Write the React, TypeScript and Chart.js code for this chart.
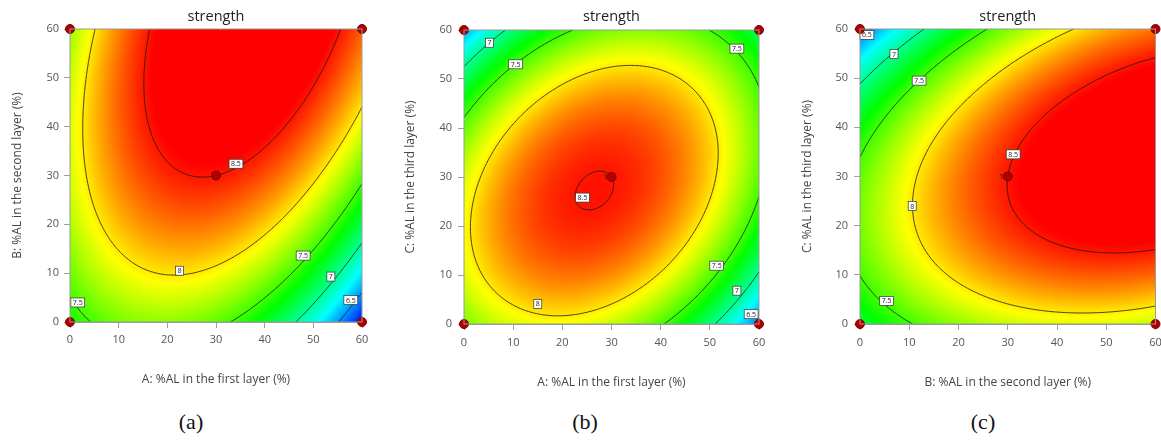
import React, { useEffect, useRef } from 'react';
import { Chart, registerables } from 'chart.js';

Chart.register(...registerables);

// ---------- data ----------
const gridLevels = [0, 10, 20, 30, 40, 50, 60];
const tickValues = [0, 10, 20, 30, 40, 50, 60];
const contourLevels = [6.5, 7, 7.5, 8, 8.5];

// (a) rows: B = 0..60, columns: A = 0..60
const strengthAB = [
  [7.377, 7.617, 7.681, 7.568, 7.278, 6.812, 6.169],
  [7.603, 7.895, 8.010, 7.948, 7.710, 7.295, 6.703],
  [7.761, 8.103, 8.270, 8.259, 8.072, 7.708, 7.167],
  [7.848, 8.242, 8.459, 8.500, 8.364, 8.051, 7.562],
  [7.866, 8.312, 8.580, 8.672, 8.587, 8.326, 7.888],
  [7.816, 8.312, 8.632, 8.775, 8.741, 8.531, 8.144],
  [7.695, 8.243, 8.614, 8.808, 8.826, 8.667, 8.331],
];
// (b) rows: C = 0..60, columns: A = 0..60
const strengthAC = [
  [7.624, 7.865, 7.929, 7.816, 7.527, 7.061, 6.418],
  [7.871, 8.162, 8.278, 8.216, 7.978, 7.563, 6.971],
  [7.945, 8.288, 8.454, 8.444, 8.257, 7.893, 7.353],
  [7.848, 8.242, 8.459, 8.500, 8.364, 8.051, 7.562],
  [7.580, 8.025, 8.293, 8.385, 8.300, 8.039, 7.600],
  [7.138, 7.635, 7.954, 8.097, 8.063, 7.853, 7.466],
  [6.526, 7.073, 7.444, 7.638, 7.655, 7.496, 7.160],
];
// (c) rows: C = 0..60, columns: B = 0..60
const strengthBC = [
  [7.214, 7.484, 7.685, 7.816, 7.878, 7.871, 7.794],
  [7.504, 7.811, 8.048, 8.216, 8.315, 8.344, 8.304],
  [7.622, 7.965, 8.239, 8.444, 8.579, 8.645, 8.642],
  [7.568, 7.948, 8.259, 8.500, 8.672, 8.775, 8.808],
  [7.343, 7.760, 8.107, 8.385, 8.594, 8.733, 8.803],
  [6.945, 7.398, 7.782, 8.097, 8.342, 8.518, 8.625],
  [6.376, 6.866, 7.287, 7.638, 7.920, 8.133, 8.276],
];

const designX = [0, 0, 60, 60, 30];
const designY = [0, 60, 0, 60, 30];

// contour label anchors (data coordinates)
const labelsA = [
  { t: '8.5', x: 34.1, y: 32.4 },
  { t: '8', x: 22.5, y: 10.5 },
  { t: '7.5', x: 47.9, y: 13.6 },
  { t: '7', x: 53.6, y: 9.3 },
  { t: '6.5', x: 57.7, y: 4.5 },
  { t: '7.5', x: 1.6, y: 4.0 },
];
const labelsB = [
  { t: '7', x: 5.2, y: 57.4 },
  { t: '7.5', x: 10.5, y: 53.0 },
  { t: '7.5', x: 55.5, y: 56.2 },
  { t: '8.5', x: 24.1, y: 25.8 },
  { t: '7.5', x: 51.4, y: 11.9 },
  { t: '7', x: 55.5, y: 6.8 },
  { t: '6.5', x: 58.4, y: 2.0 },
  { t: '8', x: 15.0, y: 4.1 },
];
const labelsC = [
  { t: '6.5', x: 1.4, y: 58.8 },
  { t: '7', x: 6.9, y: 54.9 },
  { t: '7.5', x: 12.0, y: 49.5 },
  { t: '8.5', x: 31.1, y: 34.5 },
  { t: '8', x: 10.6, y: 24.0 },
  { t: '7.5', x: 5.4, y: 4.7 },
];

const rampStops = [6.15, 6.75, 7.35, 7.95, 8.55];
const rampColors = [
  [0, 0, 255],
  [0, 255, 255],
  [0, 255, 0],
  [255, 255, 0],
  [255, 0, 0],
];

// ---------- helpers ----------
function ext(arr: number[], k: number): number {
  const n = arr.length;
  if (k < 0) return 3 * arr[0] - 3 * arr[1] + arr[2];
  if (k > n - 1) return 3 * arr[n - 1] - 3 * arr[n - 2] + arr[n - 3];
  return arr[k];
}
function cr1(arr: number[], u: number): number {
  const n = arr.length;
  let k = Math.floor(u);
  if (k < 0) k = 0;
  if (k > n - 2) k = n - 2;
  const t = u - k;
  const p0 = ext(arr, k - 1), p1 = ext(arr, k), p2 = ext(arr, k + 1), p3 = ext(arr, k + 2);
  return 0.5 * (2 * p1 + (-p0 + p2) * t + (2 * p0 - 5 * p1 + 4 * p2 - p3) * t * t + (-p0 + 3 * p1 - 3 * p2 + p3) * t * t * t);
}
function evalGrid(grid: number[][], vx: number, vy: number): number {
  const step = gridLevels[1] - gridLevels[0];
  const n = gridLevels.length - 1;
  const u = Math.min(n, Math.max(0, (vx - gridLevels[0]) / step));
  const v = Math.min(n, Math.max(0, (vy - gridLevels[0]) / step));
  const col = grid.map((row) => cr1(row, u));
  return cr1(col, v);
}
function ramp(s: number): [number, number, number] {
  if (s <= rampStops[0]) return rampColors[0] as [number, number, number];
  const last = rampStops.length - 1;
  if (s >= rampStops[last]) return rampColors[last] as [number, number, number];
  let k = 0;
  while (k < last - 1 && s > rampStops[k + 1]) k++;
  const t = (s - rampStops[k]) / (rampStops[k + 1] - rampStops[k]);
  const a = rampColors[k], b = rampColors[k + 1];
  return [a[0] + (b[0] - a[0]) * t, a[1] + (b[1] - a[1]) * t, a[2] + (b[2] - a[2]) * t];
}

type Lbl = { t: string; x: number; y: number };

function makeSurfacePlugin(grid: number[][], labels: Lbl[], centerNote: boolean) {
  return {
    id: 'surface',
    beforeDatasetsDraw(chart: any) {
      const ctx: CanvasRenderingContext2D = chart.ctx;
      const { left, top, right, bottom } = chart.chartArea;
      const xs = chart.scales.x, ys = chart.scales.y;
      const w = Math.round(right - left), h = Math.round(bottom - top);
      // heat map
      const off = document.createElement('canvas');
      off.width = w; off.height = h;
      const octx = off.getContext('2d')!;
      const img = octx.createImageData(w, h);
      for (let j = 0; j < h; j++) {
        const vy = ys.getValueForPixel(top + j + 0.5);
        for (let i = 0; i < w; i++) {
          const vx = xs.getValueForPixel(left + i + 0.5);
          const c = ramp(evalGrid(grid, vx, vy));
          const o = (j * w + i) * 4;
          img.data[o] = c[0]; img.data[o + 1] = c[1]; img.data[o + 2] = c[2]; img.data[o + 3] = 255;
        }
      }
      octx.putImageData(img, 0, 0);
      ctx.save();
      ctx.drawImage(off, left, top, w, h);

      // contours (marching squares in data space)
      const xMin = xs.min, xMax = xs.max, yMin = ys.min, yMax = ys.max;
      const N = 220;
      const vals: number[] = new Array((N + 1) * (N + 1));
      const gx = (i: number) => xMin + ((xMax - xMin) * i) / N;
      const gy = (j: number) => yMin + ((yMax - yMin) * j) / N;
      for (let j = 0; j <= N; j++) for (let i = 0; i <= N; i++) vals[j * (N + 1) + i] = evalGrid(grid, gx(i), gy(j));
      ctx.beginPath();
      ctx.rect(left, top, right - left, bottom - top);
      ctx.clip();
      ctx.strokeStyle = 'rgba(25,25,25,0.9)';
      ctx.lineWidth = 0.9;
      ctx.beginPath();
      for (const lv of contourLevels) {
        for (let j = 0; j < N; j++) {
          for (let i = 0; i < N; i++) {
            const v00 = vals[j * (N + 1) + i], v10 = vals[j * (N + 1) + i + 1];
            const v01 = vals[(j + 1) * (N + 1) + i], v11 = vals[(j + 1) * (N + 1) + i + 1];
            const pts: [number, number][] = [];
            const edge = (a: number, b: number, ax: number, ay: number, bx: number, by: number) => {
              if ((a < lv) !== (b < lv)) {
                const t = (lv - a) / (b - a);
                pts.push([ax + (bx - ax) * t, ay + (by - ay) * t]);
              }
            };
            const x0 = gx(i), x1 = gx(i + 1), y0 = gy(j), y1 = gy(j + 1);
            edge(v00, v10, x0, y0, x1, y0);
            edge(v10, v11, x1, y0, x1, y1);
            edge(v11, v01, x1, y1, x0, y1);
            edge(v01, v00, x0, y1, x0, y0);
            const seg = (p: [number, number], q: [number, number]) => {
              ctx.moveTo(xs.getPixelForValue(p[0]), ys.getPixelForValue(p[1]));
              ctx.lineTo(xs.getPixelForValue(q[0]), ys.getPixelForValue(q[1]));
            };
            if (pts.length === 2) seg(pts[0], pts[1]);
            else if (pts.length === 4) { seg(pts[0], pts[1]); seg(pts[2], pts[3]); }
          }
        }
      }
      ctx.stroke();
      ctx.restore();

      // contour labels
      ctx.save();
      ctx.font = '7px "Open Sans"';
      ctx.textAlign = 'center';
      ctx.textBaseline = 'middle';
      for (const l of labels) {
        const px = xs.getPixelForValue(l.x), py = ys.getPixelForValue(l.y);
        const tw = ctx.measureText(l.t).width;
        const bw = tw + 4, bh = 9;
        ctx.fillStyle = '#ffffff';
        ctx.fillRect(px - bw / 2, py - bh / 2, bw, bh);
        ctx.strokeStyle = '#333333';
        ctx.lineWidth = 0.7;
        ctx.strokeRect(px - bw / 2, py - bh / 2, bw, bh);
        ctx.fillStyle = '#222222';
        ctx.fillText(l.t, px, py + 0.5);
      }
      if (centerNote) {
        ctx.font = '8px "Open Sans"';
        ctx.textAlign = 'right';
        ctx.fillStyle = '#222222';
        ctx.fillText('1', xs.getPixelForValue(30) - 4, ys.getPixelForValue(30));
      }
      ctx.restore();
    },
    afterDraw(chart: any) {
      const ctx: CanvasRenderingContext2D = chart.ctx;
      const { left, top, right, bottom } = chart.chartArea;
      ctx.save();
      ctx.strokeStyle = '#9a9a9a';
      ctx.lineWidth = 1;
      ctx.strokeRect(left, top, right - left, bottom - top);
      ctx.restore();
    },
  };
}

type PanelCfg = {
  x: number; w: number;
  grid: number[][]; labels: Lbl[]; centerNote: boolean;
  xTitle: string; yTitle: string;
  yW: number; xH: number; padRight: number;
  titleBottom: number; yTitlePad: number; xTitlePad: number; tickPad: number;
};

const CANVAS_H = 400;

function Panel({ cfg }: { cfg: PanelCfg }) {
  const ref = useRef<HTMLCanvasElement>(null);
  useEffect(() => {
    const font = '"Open Sans", "DejaVu Sans", sans-serif';
    const axis = (title: string, isY: boolean): any => ({
      type: 'linear',
      min: tickValues[0],
      max: tickValues[tickValues.length - 1],
      afterBuildTicks: (s: any) => { s.ticks = tickValues.map((v) => ({ value: v })); },
      afterFit: (s: any) => {
        if (isY) { s.width = cfg.yW; s.paddingTop = 0; s.paddingBottom = 0; }
        else { s.height = cfg.xH; s.paddingLeft = 0; s.paddingRight = 0; }
      },
      grid: { display: true, drawOnChartArea: false, drawTicks: true, tickLength: 6, color: '#a0a0a0' },
      border: { display: true, color: '#9a9a9a' },
      ticks: { color: '#555555', font: { family: font, size: 11 }, padding: cfg.tickPad, maxRotation: 0, autoSkip: false },
      title: {
        display: true, text: title, color: '#444444',
        font: { family: font, size: 12 },
        padding: isY ? { top: cfg.yTitlePad, bottom: 0 } : { top: 0, bottom: cfg.xTitlePad },
      },
    });
    const chart = new Chart(ref.current!, {
      type: 'scatter',
      data: {
        datasets: [{
          data: designX.map((x, i) => ({ x, y: designY[i] })),
          backgroundColor: '#b00000',
          borderColor: '#7a0000',
          borderWidth: 1,
          pointRadius: 4.5,
          clip: false as any,
        }],
      },
      options: {
        animation: false,
        responsive: false,
        devicePixelRatio: 1,
        events: [],
        layout: { padding: { left: 0, right: cfg.padRight, top: 0, bottom: 0 } },
        plugins: {
          legend: { display: false },
          tooltip: { enabled: false },
          title: {
            display: true, text: 'strength', color: '#222222', fullSize: false,
            font: { family: font, size: 14.5, weight: 'normal' as any },
            padding: { top: 8, bottom: cfg.titleBottom },
          },
        },
        scales: { x: axis(cfg.xTitle, false), y: axis(cfg.yTitle, true) },
      },
      plugins: [makeSurfacePlugin(cfg.grid, cfg.labels, cfg.centerNote)],
    });
    return () => chart.destroy();
  }, []);
  return (
    <canvas
      ref={ref}
      width={cfg.w}
      height={CANVAS_H}
      style={{ position: 'absolute', left: cfg.x, top: 0, width: cfg.w, height: CANVAS_H }}
    />
  );
}

const panels: PanelCfg[] = [
  {
    x: 0, w: 390, grid: strengthAB, labels: labelsA, centerNote: false,
    xTitle: 'A: %AL in the first layer (%)', yTitle: 'B: %AL in the second layer (%)',
    yW: 70, xH: 78, padRight: 28, titleBottom: 3.6, yTitlePad: 10, xTitlePad: 13.5, tickPad: 5,
  },
  {
    x: 390, w: 390, grid: strengthAC, labels: labelsB, centerNote: true,
    xTitle: 'A: %AL in the first layer (%)', yTitle: 'C: %AL in the third layer (%)',
    yW: 74, xH: 76, padRight: 21, titleBottom: 4.6, yTitlePad: 13.5, xTitlePad: 10, tickPad: 6,
  },
  {
    x: 780, w: 381, grid: strengthBC, labels: labelsC, centerNote: true,
    xTitle: 'B: %AL in the second layer (%)', yTitle: 'C: %AL in the third layer (%)',
    yW: 80, xH: 76, padRight: 5, titleBottom: 3.6, yTitlePad: 20.5, xTitlePad: 10, tickPad: 6,
  },
];

const captions = [
  { t: '(a)', x: 191 },
  { t: '(b)', x: 585 },
  { t: '(c)', x: 983 },
];

export default function App() {
  useEffect(() => {
    document.body.style.margin = '0';
  }, []);
  return (
    <div style={{ position: 'relative', width: 1161, height: 441, background: '#ffffff', overflow: 'hidden' }}>
      {panels.map((p, i) => <Panel key={i} cfg={p} />)}
      {captions.map((c, i) => (
        <div
          key={i}
          style={{
            position: 'absolute', left: c.x, top: 410, transform: 'translateX(-50%)',
            fontFamily: '"Liberation Serif", "Times New Roman", serif', fontSize: 22, lineHeight: '24px', color: '#111',
          }}
        >
          {c.t}
        </div>
      ))}
    </div>
  );
}
